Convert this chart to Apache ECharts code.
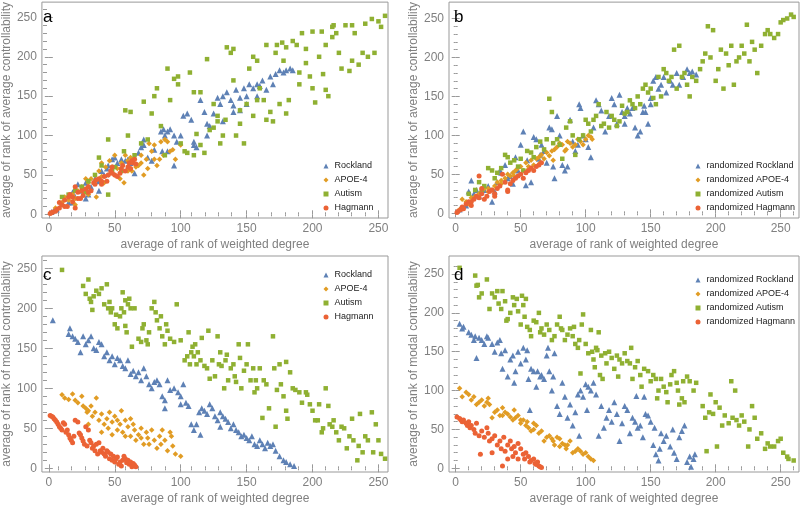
<!DOCTYPE html>
<html><head><meta charset="utf-8">
<script src="https://cdn.jsdelivr.net/npm/echarts@6/dist/echarts.min.js"></script>
<style>html,body{margin:0;padding:0;background:#fff}#c{width:800px;height:508px}</style>
</head><body><div id="c"></div>
<script>
// ---- tick labels ----
const majorTicks = [0, 50, 100, 150, 200, 250];
const minorTicks = [10,20,30,40,60,70,80,90,110,120,130,140,160,170,180,190,210,220,230,240,260];
const xTitle = 'average of rank of weighted degree';
const yTitleTop = 'average of rank of average controllability';
const yTitleBottom = 'average of rank of modal controllability';
const namesTop = ['Rockland','APOE-4','Autism','Hagmann'];
const namesRand = ['randomized Rockland','randomized APOE-4','randomized Autism','randomized Hagmann'];
const panelLetters = ['a','b','c','d'];

// ---- panel a : weighted degree vs average controllability ----
const aRock = [[2,3],[4,5],[6,6],[10,14],[12,20],[15,15],[18,28],[20,22],[22,38],[25,30],[28,40],[30,25],[32,35],[35,45],[38,42],[40,55],[42,50],[45,62],[48,70],[50,72],[52,65],[55,70],[58,68],[60,60],[62,65],[65,52],[68,78],[70,85],[72,88],[75,72],[78,68],[80,82],[85,105],[87,108],[88,100],[90,105],[92,108],[90,80],[95,62],[97,92],[100,100],[102,125],[105,128],[108,120],[110,88],[112,85],[115,145],[118,130],[120,115],[122,112],[125,128],[128,148],[130,140],[132,150],[135,155],[138,145],[140,130],[142,158],[145,148],[148,160],[150,150],[152,165],[155,160],[158,165],[160,163],[162,170],[165,158],[168,175],[170,165],[172,178],[175,183],[178,180],[180,183],[183,185],[185,183],[95,100],[86,80],[72,95],[60,70],[44,58],[38,30],[28,20],[18,15],[110,92],[120,100],[132,118],[140,138],[145,132],[150,140],[158,150]];
const aApoe = [[5,8],[10,15],[12,22],[15,18],[18,25],[20,20],[22,30],[25,35],[26,28],[28,45],[30,40],[32,45],[35,42],[36,22],[38,55],[40,48],[42,40],[43,60],[45,50],[46,68],[48,60],[50,50],[52,58],[54,45],[55,65],[57,40],[58,75],[60,68],[62,72],[63,55],[65,70],[66,60],[68,62],[70,75],[72,50],[74,70],[75,58],[76,90],[78,80],[80,88],[82,62],[84,70],[85,92],[87,75],[88,95],[90,92],[92,80],[94,82],[96,70],[100,88],[50,75],[40,65],[30,25],[20,12],[60,55],[70,65],[80,70]];
const aAut = [[10,22],[15,25],[20,30],[25,35],[28,28],[30,42],[35,50],[38,72],[40,62],[45,95],[45,25],[48,55],[50,60],[55,55],[57,80],[58,132],[60,100],[62,130],[65,75],[70,90],[72,143],[75,95],[78,128],[80,150],[82,160],[85,112],[88,75],[90,185],[92,145],[95,172],[98,175],[98,165],[100,90],[103,80],[105,78],[107,180],[110,155],[110,75],[112,102],[115,155],[115,88],[118,78],[120,197],[122,107],[125,110],[128,118],[130,90],[132,100],[134,120],[135,212],[138,205],[140,210],[140,170],[142,100],[145,115],[148,90],[150,140],[152,185],[155,125],[155,200],[158,195],[158,145],[160,160],[163,145],[165,215],[165,120],[168,130],[170,118],[172,205],[173,215],[175,140],[177,218],[178,195],[180,212],[180,128],[182,145],[185,220],[188,215],[190,165],[192,230],[195,210],[198,175],[200,232],[200,160],[202,142],[205,200],[207,232],[208,178],[210,158],[210,215],[212,150],[215,225],[216,240],[218,230],[220,205],[222,185],[225,240],[228,182],[230,195],[232,230],[235,190],[238,205],[240,242],[242,200],[245,248],[247,205],[250,245],[252,238],[255,252],[230,240],[215,238],[190,180],[195,192],[145,132],[125,140],[128,125]];
const aHag = [[1,1],[2,2],[3,3],[5,4],[6,6],[8,8],[8,15],[10,12],[12,18],[14,10],[15,22],[16,25],[18,16],[20,35],[20,8],[22,28],[24,20],[25,30],[26,24],[28,32],[30,35],[32,30],[34,40],[35,38],[36,44],[38,45],[40,42],[42,48],[44,42],[45,50],[47,55],[48,52],[50,50],[52,48],[54,52],[55,58],[56,62],[58,55],[60,60],[61,65],[62,58],[63,68],[64,65],[65,70],[66,64],[30,28],[22,20],[18,22],[12,10],[48,60],[40,38]];

// ---- panel b : randomized, average controllability ----
const bRock = [[3,5],[8,10],[10,28],[12,42],[14,25],[16,30],[18,22],[20,28],[22,30],[25,35],[28,15],[30,28],[32,40],[34,55],[35,52],[38,62],[40,45],[42,48],[44,38],[46,72],[48,55],[50,88],[52,105],[54,36],[55,68],[58,40],[60,98],[62,95],[64,70],[65,75],[66,88],[68,80],[70,65],[72,110],[74,108],[75,60],[76,45],[78,125],[80,100],[82,62],[84,55],[86,60],[88,120],[90,92],[92,80],[94,88],[95,140],[96,135],[98,100],[100,95],[102,85],[104,72],[106,110],[108,145],[110,140],[112,132],[115,105],[118,125],[120,148],[122,140],[124,115],[126,152],[128,130],[130,115],[132,135],[134,128],[136,135],[138,110],[140,100],[142,105],[144,130],[146,130],[148,115],[150,140],[152,170],[154,175],[156,160],[158,165],[160,175],[162,155],[165,170],[167,165],[170,180],[172,165],[175,175],[178,185],[180,180],[182,182],[185,178],[145,138],[150,148],[130,125]];
const bApoe = [[3,5],[5,18],[8,15],[10,12],[12,20],[15,22],[18,25],[20,28],[22,32],[25,28],[28,30],[30,35],[32,40],[35,42],[38,45],[40,50],[42,48],[44,52],[46,55],[48,58],[50,60],[52,55],[54,65],[56,60],[58,68],[60,62],[62,70],[64,72],[66,75],[68,70],[70,78],[72,74],[74,80],[76,82],[78,85],[80,90],[82,88],[84,80],[86,92],[88,90],[90,85],[92,88],[94,95],[96,92],[98,88],[100,95],[102,100],[104,98],[105,95],[45,48],[55,55],[65,65],[75,68],[85,82],[35,38],[25,32]];
const bAut = [[10,25],[15,30],[18,40],[20,28],[22,35],[25,58],[28,55],[30,45],[32,52],[35,58],[38,75],[40,72],[42,65],[45,68],[48,60],[50,70],[52,55],[55,80],[58,78],[60,72],[62,85],[65,92],[68,82],[70,95],[72,147],[74,130],[75,90],[78,95],[80,88],[82,70],[85,110],[88,118],[90,100],[92,75],[95,95],[98,100],[100,120],[102,115],[104,105],[106,120],[108,125],[110,140],[112,112],[114,115],[116,130],[118,110],[120,125],[122,120],[124,112],[126,118],[128,138],[130,128],[132,130],[134,145],[136,140],[138,135],[140,150],[142,140],[144,160],[146,165],[148,155],[150,160],[152,148],[154,140],[156,175],[158,150],[160,185],[162,180],[164,170],[166,175],[168,210],[170,160],[172,215],[174,175],[176,180],[178,165],[180,150],[182,175],[185,170],[188,185],[190,195],[192,205],[194,240],[196,200],[198,235],[200,170],[202,185],[204,210],[206,160],[208,205],[210,190],[212,215],[214,165],[216,195],[218,200],[220,215],[222,205],[224,242],[226,195],[228,220],[230,210],[232,180],[235,215],[238,230],[240,235],[242,230],[245,225],[248,230],[250,245],[252,248],[255,250],[258,255],[260,252]];
const bHag = [[1,1],[2,3],[4,5],[5,8],[6,6],[8,12],[10,15],[12,10],[14,18],[16,22],[18,48],[18,20],[20,25],[22,18],[24,22],[26,28],[28,30],[30,25],[32,32],[34,35],[36,50],[38,40],[40,30],[42,38],[44,42],[46,45],[48,48],[50,50],[52,45],[54,52],[56,55],[58,58],[60,55],[62,60],[64,62],[66,65],[30,22],[40,28],[20,32],[12,15]];

// ---- panel c : weighted degree vs modal controllability ----
const cRock = [[3,185],[15,168],[16,175],[18,165],[20,162],[22,158],[24,145],[26,165],[28,155],[30,160],[32,165],[34,150],[36,148],[38,158],[40,155],[42,140],[44,145],[46,135],[48,140],[50,130],[52,138],[54,135],[56,128],[58,125],[60,135],[62,118],[64,122],[66,115],[68,120],[70,110],[72,125],[74,115],[76,105],[78,100],[80,108],[82,110],[84,105],[86,90],[88,85],[90,110],[92,98],[95,100],[98,95],[100,90],[102,105],[104,82],[106,78],[108,55],[110,48],[112,55],[114,70],[116,75],[118,72],[120,68],[122,80],[124,75],[126,65],[128,60],[130,70],[132,65],[134,62],[136,58],[138,50],[140,55],[142,48],[144,45],[146,40],[148,42],[150,38],[152,35],[154,40],[156,30],[158,28],[160,35],[162,30],[164,25],[166,32],[168,28],[170,30],[172,22],[175,15],[178,10],[180,8],[183,5],[186,3],[115,42],[88,75],[100,80],[130,52]];
const cApoe = [[10,92],[12,88],[15,86],[18,93],[20,85],[22,82],[25,90],[26,78],[28,75],[29,70],[30,72],[32,78],[33,65],[35,70],[36,88],[38,60],[40,68],[42,55],[44,62],[45,50],[46,70],[48,58],[50,65],[52,48],[54,55],[55,72],[56,45],[58,60],[60,52],[62,40],[64,55],[65,48],[66,35],[68,42],[70,50],[72,30],[74,45],[75,38],[76,30],[78,48],[80,35],[82,25],[84,40],[85,30],[86,48],[88,35],[90,22],[92,45],[93,40],[94,28],[96,18],[100,15],[48,42],[58,40],[70,38],[40,45],[30,55],[52,60],[62,62]];
const cAut = [[10,248],[26,228],[28,218],[30,236],[31,212],[32,208],[33,198],[34,215],[36,222],[38,218],[40,225],[42,205],[44,230],[45,200],[46,208],[47,195],[48,200],[50,180],[51,192],[52,175],[54,190],[55,200],[56,220],[57,195],[58,210],[58,178],[59,170],[60,205],[61,212],[62,200],[63,152],[65,200],[68,162],[70,158],[71,175],[72,180],[74,160],[75,155],[76,170],[78,200],[80,208],[81,195],[82,185],[84,175],[85,190],[86,165],[88,155],[89,180],[90,172],[92,162],[95,158],[97,205],[100,160],[103,135],[105,140],[106,170],[107,130],[108,145],[109,152],[110,140],[111,155],[112,130],[113,145],[115,135],[116,163],[118,128],[120,125],[121,172],[122,112],[124,135],[126,115],[128,165],[129,130],[130,145],[131,128],[133,100],[134,135],[135,142],[136,110],[138,125],[140,130],[141,115],[142,108],[144,155],[145,138],[146,100],[148,122],[150,130],[151,155],[153,110],[155,125],[156,95],[157,110],[158,100],[160,125],[162,63],[163,110],[165,105],[167,75],[170,165],[171,125],[172,52],[173,98],[175,130],[176,105],[178,90],[180,133],[180,72],[181,62],[183,120],[185,100],[187,98],[190,95],[192,82],[195,95],[196,92],[198,80],[200,72],[202,60],[204,60],[205,80],[207,45],[208,50],[210,100],[212,78],[213,55],[215,52],[216,60],[218,45],[220,35],[222,52],[224,50],[226,25],[228,40],[230,62],[231,35],[234,10],[235,28],[236,68],[238,20],[240,40],[242,35],[245,70],[246,20],[248,55],[250,35],[252,18],[255,12]];
const cHag = [[1,66],[2,65],[3,64],[4,62],[5,60],[6,58],[7,55],[8,52],[9,50],[10,48],[11,57],[12,55],[13,45],[14,48],[15,42],[16,38],[17,35],[18,32],[19,40],[20,60],[22,58],[23,44],[24,42],[25,38],[26,34],[27,30],[28,52],[29,28],[30,48],[31,35],[32,32],[33,25],[34,28],[35,22],[36,30],[37,18],[38,32],[39,22],[40,20],[41,25],[42,18],[43,15],[44,22],[45,20],[46,12],[47,18],[48,10],[49,15],[50,8],[51,12],[52,14],[53,5],[54,8],[55,3],[56,10],[57,15],[58,12],[59,7],[60,10],[61,5],[62,8],[63,2],[64,6],[65,4],[66,2]];

// ---- panel d : randomized, modal controllability ----
const dRock = [[3,186],[5,180],[6,182],[10,175],[12,172],[14,165],[15,170],[16,142],[18,168],[20,165],[22,160],[24,170],[25,168],[28,160],[30,150],[32,162],[34,165],[35,148],[36,128],[38,152],[40,118],[42,140],[44,145],[45,110],[46,125],[48,150],[50,135],[52,155],[54,140],[55,152],[56,115],[57,75],[58,128],[60,125],[62,105],[63,125],[65,118],[66,120],[68,115],[70,145],[71,155],[72,125],[74,100],[75,118],[76,148],[78,80],[80,70],[82,110],[84,92],[86,65],[88,82],[90,55],[92,72],[94,95],[95,42],[96,100],[98,92],[100,108],[101,75],[102,105],[104,100],[106,110],[108,95],[110,42],[112,80],[114,52],[116,65],[118,75],[120,60],[122,85],[124,70],[126,35],[128,58],[130,80],[132,75],[134,45],[136,65],[138,60],[139,93],[140,52],[142,55],[144,40],[145,92],[146,70],[148,68],[150,60],[152,30],[153,52],[154,18],[156,10],[157,25],[158,45],[160,35],[162,42],[165,28],[167,50],[168,20],[170,12],[172,40],[174,48],[176,55],[178,8],[180,15],[181,2],[183,12],[184,18]];
const dApoe = [[3,103],[5,92],[8,98],[10,95],[12,88],[14,92],[16,82],[18,85],[20,88],[22,80],[24,85],[25,90],[26,82],[28,65],[30,72],[32,75],[34,68],[36,78],[38,72],[40,70],[42,66],[44,62],[45,75],[46,65],[48,68],[50,58],[52,62],[54,55],[55,60],[56,52],[58,48],[60,58],[62,55],[64,45],[66,48],[68,35],[70,40],[72,42],[74,38],[75,35],[76,30],[78,40],[80,38],[82,32],[84,30],[85,25],[86,30],[88,35],[90,20],[92,22],[94,25],[96,22],[98,18],[100,20],[102,15],[104,12],[106,10],[50,62],[60,50],[36,68],[80,28]];
const dAut = [[3,258],[15,248],[16,235],[17,236],[18,220],[20,225],[24,243],[26,205],[28,225],[30,220],[32,228],[33,212],[35,205],[36,228],[38,215],[39,190],[40,192],[42,200],[44,220],[45,210],[47,218],[48,202],[50,185],[51,222],[52,210],[53,195],[54,218],[55,182],[57,178],[58,170],[60,190],[62,188],[64,200],[65,175],[66,180],[68,172],[70,185],[72,178],[74,165],[76,170],[78,185],[80,195],[81,180],[82,178],[84,165],[86,172],[88,180],[90,170],[91,182],[92,160],[94,155],[95,165],[96,122],[97,185],[98,198],[100,160],[102,148],[104,178],[105,150],[106,140],[107,130],[108,155],[109,152],[110,175],[111,120],[112,145],[113,115],[115,148],[116,135],[118,150],[120,142],[122,128],[124,145],[125,118],[126,140],[128,135],[130,148],[132,138],[134,135],[135,155],[136,115],[138,130],[140,138],[142,120],[143,105],[145,128],[148,125],[150,112],[152,120],[154,115],[155,90],[156,100],[158,115],[160,105],[162,98],[163,85],[165,108],[166,120],[168,125],[170,110],[171,100],[172,82],[174,90],[175,112],[176,85],[178,118],[180,112],[183,100],[185,110],[190,80],[192,65],[193,22],[195,72],[196,95],[198,70],[200,85],[201,28],[203,78],[205,55],[207,68],[210,58],[212,112],[213,65],[215,100],[216,62],[218,55],[220,68],[222,60],[225,28],[226,50],[228,80],[230,65],[232,38],[235,45],[238,25],[240,32],[242,28],[248,35],[250,38],[252,20],[255,15],[256,12],[260,10],[245,28]];
const dHag = [[1,66],[3,64],[4,62],[5,60],[6,62],[8,58],[9,55],[10,60],[11,52],[12,55],[14,50],[15,45],[16,58],[18,42],[19,18],[20,48],[22,40],[24,52],[25,45],[26,35],[28,38],[30,42],[32,30],[34,35],[35,25],[36,3],[37,40],[38,22],[40,30],[42,35],[43,25],[44,15],[45,28],[46,20],[48,32],[50,25],[52,18],[53,12],[54,20],[56,15],[57,8],[58,10],[60,12],[61,6],[62,5],[63,8],[64,3],[65,2],[66,1],[40,12],[28,20],[48,12]];

// ---- styling / layout ----
const colors = ['#5E81B5', '#E19C24', '#8FB032', '#EB6235'];
const symbols = ['triangle', 'diamond', 'rect', 'circle'];
const sizes = [6, 5.5, 4.5, 5];
const frameColor = '#999999';
const labelColor = '#808080';
const font = 'Liberation Sans, Arial, sans-serif';

const panels = [
  { rect:{left:38, top:2, width:350, height:216}, x:[-5.25,257.25], y:[-4.7,269.4], data:[aRock,aApoe,aAut,aHag], names:namesTop, yName:yTitleTop, legend:{left:323.5, top:161.5}, letter:{left:43, top:9} },
  { rect:{left:449, top:2, width:350, height:216}, x:[-5.15,264.1], y:[-6,271], data:[bRock,bApoe,bAut,bHag], names:namesRand, yName:yTitleTop, legend:{left:695.5, top:161.5}, letter:{left:454, top:9} },
  { rect:{left:38, top:256, width:350, height:216}, x:[-5.25,257.25], y:[-4.6,265.4], data:[cRock,cApoe,cAut,cHag], names:namesTop, yName:yTitleBottom, legend:{left:323.5, top:270.5}, letter:{left:43, top:267} },
  { rect:{left:449, top:256, width:350, height:216}, x:[-5.15,264.1], y:[-4.8,273.2], data:[dRock,dApoe,dAut,dHag], names:namesRand, yName:yTitleBottom, legend:{left:695.5, top:275.5}, letter:{left:454, top:267} }
];

const grid = [], xAxis = [], yAxis = [], series = [], legend = [], title = [];

function tickAxis(gridIndex, pos, range, ticks, len, withLabels, name) {
  const ax = {
    type:'value', gridIndex, position:pos, min:range[0], max:range[1],
    axisLine:{show:false}, splitLine:{show:false},
    axisTick:{show:true, inside:true, length:len, customValues:ticks, lineStyle:{color:frameColor, width:1}},
    axisLabel:{show:withLabels, customValues:majorTicks, color:labelColor, fontSize:12, fontFamily:font, margin:5}
  };
  if (name) {
    ax.name = name; ax.nameLocation = 'middle';
    ax.nameTextStyle = {color:labelColor, fontSize:12, fontFamily:font};
  }
  return ax;
}

panels.forEach((p, i) => {
  const g = grid.length;
  grid.push(Object.assign({show:true, borderColor:frameColor, borderWidth:1, backgroundColor:'transparent', containLabel:false}, p.rect));
  grid.push(Object.assign({show:false, containLabel:false}, p.rect));
  // main grid: major ticks (labels on bottom/left)
  const xMain = xAxis.length;
  const xb = tickAxis(g, 'bottom', p.x, majorTicks, 4, true, xTitle); xb.nameGap = 21; xAxis.push(xb);
  xAxis.push(tickAxis(g, 'top', p.x, majorTicks, 4, false));
  const yMain = yAxis.length;
  const yl = tickAxis(g, 'left', p.y, majorTicks, 4, true, p.yName); yl.nameGap = 26; yAxis.push(yl);
  yAxis.push(tickAxis(g, 'right', p.y, majorTicks, 4, false));
  // overlay grid: minor ticks
  xAxis.push(tickAxis(g+1, 'bottom', p.x, minorTicks, 2, false));
  xAxis.push(tickAxis(g+1, 'top', p.x, minorTicks, 2, false));
  yAxis.push(tickAxis(g+1, 'left', p.y, minorTicks, 2, false));
  yAxis.push(tickAxis(g+1, 'right', p.y, minorTicks, 2, false));

  p.data.forEach((d, k) => {
    series.push({
      type:'scatter', name:p.names[k], xAxisIndex:xMain, yAxisIndex:yMain,
      data:d, symbol:symbols[k], symbolSize:sizes[k],
      itemStyle:{color:colors[k], opacity:1}, silent:true
    });
  });
  legend.push({
    data:p.names.map((n, k) => ({name:n, icon:symbols[k], itemStyle:{color:colors[k]}})),
    orient:'vertical', left:p.legend.left, top:p.legend.top, padding:0,
    itemWidth:5, itemHeight:5, itemGap:5, itemStyle:{borderWidth:0},
    textStyle:{color:'#222', fontSize:9, fontFamily:font, padding:[0,0,0,1]},
    selectedMode:false
  });
  title.push({ text:panelLetters[i], left:p.letter.left, top:p.letter.top, padding:0,
    textStyle:{color:'#000', fontSize:17, fontWeight:'normal', fontFamily:font} });
});

const chart = echarts.init(document.getElementById('c'), null, {renderer:'canvas'});
chart.setOption({ animation:false, backgroundColor:'#fff', grid, xAxis, yAxis, series, legend, title });
</script>
</body></html>
